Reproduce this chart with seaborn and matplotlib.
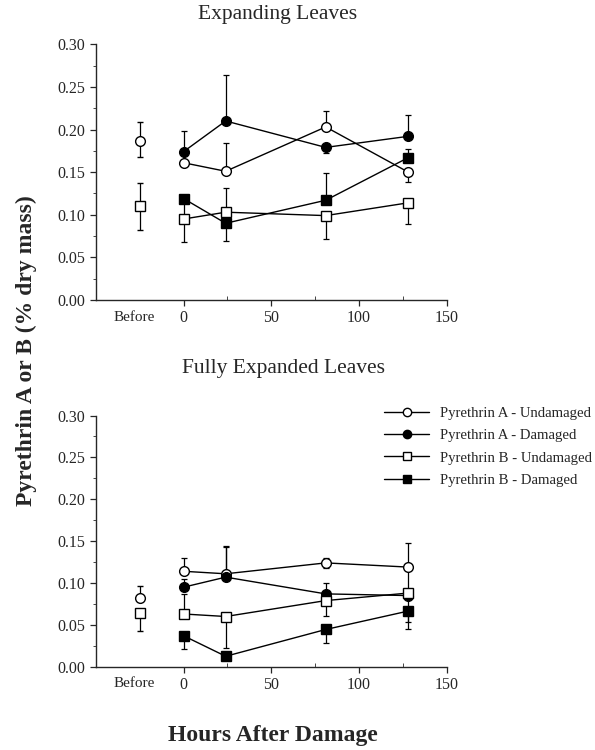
import numpy as np
import pandas as pd
import seaborn as sns
import matplotlib.pyplot as plt
from matplotlib.lines import Line2D
from matplotlib.ticker import MultipleLocator, FixedLocator

# =============================================================================
# Data
# =============================================================================

hours = [0, 24, 81, 128]
before_x = -25

series_names = [
    'Pyrethrin A - Undamaged',
    'Pyrethrin A - Damaged',
    'Pyrethrin B - Undamaged',
    'Pyrethrin B - Damaged',
]

# Expanding leaves
exp_a_und = [0.161, 0.151, 0.203, 0.150]
exp_a_dam = [0.174, 0.210, 0.179, 0.192]
exp_b_und = [0.095, 0.103, 0.099, 0.114]
exp_b_dam = [0.119, 0.090, 0.117, 0.167]
exp_lo = [[0, 0, 0, 0.012], [0, 0, 0.007, 0], [0, 0, 0.027, 0.025], [0.051, 0.021, 0, 0]]
exp_hi = [[0, 0.033, 0.019, 0], [0.024, 0.054, 0, 0.025], [0, 0.028, 0, 0], [0, 0, 0.032, 0.010]]
exp_before = [0.187, 0.110]          # A undamaged, B undamaged
exp_before_lo = [0.019, 0.028]
exp_before_hi = [0.022, 0.027]

# Fully expanded leaves
full_a_und = [0.114, 0.111, 0.124, 0.119]
full_a_dam = [0.095, 0.107, 0.087, 0.085]
full_b_und = [0.063, 0.060, 0.079, 0.088]
full_b_dam = [0.037, 0.0125, 0.0445, 0.0665]
full_lo = [[0, 0, 0.006, 0.029], [0, 0, 0, 0], [0, 0.038, 0.018, 0.035], [0.016, 0, 0.016, 0.021]]
full_hi = [[0.016, 0.033, 0.006, 0.029], [0.010, 0.036, 0.013, 0], [0.024, 0, 0, 0], [0, 0, 0, 0]]
full_before = [0.0825, 0.0646]
full_before_lo = [0, 0.022]
full_before_hi = [0.014, 0]

# =============================================================================
# Style
# =============================================================================

sns.set_style("ticks")
plt.rcParams['font.family'] = ['Liberation Serif', 'DejaVu Serif']

markers = ['o', 'o', 's', 's']
faces = ['white', 'black', 'white', 'black']


def draw_panel(ax, values, lo, hi, before, before_lo, before_hi):
    for i, name in enumerate(series_names):
        df = pd.DataFrame({'hours': hours, 'value': values[i]})
        ax.errorbar(hours, values[i], yerr=[lo[i], hi[i]], fmt='none',
                    ecolor='black', elinewidth=0.9, capsize=2.5, capthick=0.9, zorder=2)
        sns.lineplot(data=df, x='hours', y='value', ax=ax, color='black',
                     linewidth=1.0, marker=markers[i], markersize=7,
                     markerfacecolor=faces[i], markeredgecolor='black',
                     markeredgewidth=1.0, zorder=3)
    for j, idx in enumerate([0, 2]):
        ax.errorbar([before_x], [before[j]], yerr=[[before_lo[j]], [before_hi[j]]],
                    fmt=markers[idx], mfc=faces[idx], mec='black', ms=7, mew=1.0,
                    ecolor='black', elinewidth=0.9, capsize=2.5, capthick=0.9, zorder=3)

    ax.set_xlim(-50, 150)
    ax.set_ylim(0, 0.30)
    ax.set_xticks([0, 50, 100, 150])
    ax.xaxis.set_minor_locator(FixedLocator([25, 75, 125]))
    ax.yaxis.set_major_locator(MultipleLocator(0.05))
    ax.yaxis.set_minor_locator(MultipleLocator(0.025))
    ax.set_yticklabels([f'{v:.2f}' for v in ax.get_yticks()])
    ax.tick_params(axis='both', which='major', labelsize=11.5, length=4, width=0.9)
    ax.tick_params(axis='x', which='minor', direction='in', length=3)
    ax.tick_params(axis='y', which='minor', length=2.5)
    ax.text(before_x - 3, -0.0125, 'Before', ha='center', va='top', fontsize=11,
            transform=ax.transData)
    ax.set_xlabel('')
    ax.set_ylabel('')
    sns.despine(ax=ax)
    for s in ['left', 'bottom']:
        ax.spines[s].set_linewidth(1.0)


fig = plt.figure(figsize=(5.95, 7.5), dpi=100)
ax1 = fig.add_axes([0.161, 0.600, 0.590, 0.341])
ax2 = fig.add_axes([0.161, 0.111, 0.590, 0.335])

draw_panel(ax1, [exp_a_und, exp_a_dam, exp_b_und, exp_b_dam], exp_lo, exp_hi,
           exp_before, exp_before_lo, exp_before_hi)
draw_panel(ax2, [full_a_und, full_a_dam, full_b_und, full_b_dam], full_lo, full_hi,
           full_before, full_before_lo, full_before_hi)

fig.text(0.466, 0.980, 'Expanding Leaves', ha='center', va='center', fontsize=15.5)
fig.text(0.477, 0.509, 'Fully Expanded Leaves', ha='center', va='center', fontsize=15.5)
fig.text(0.045, 0.533, 'Pyrethrin A or B (% dry mass)', rotation=90, ha='center',
         va='center', fontsize=17, fontweight='bold')
fig.text(0.459, 0.02, 'Hours After Damage', ha='center', va='center',
         fontsize=17, fontweight='bold')

handles = [
    Line2D([], [], color='black', lw=1.0, marker=markers[i], ms=6,
           mfc=faces[i], mec='black', label=series_names[i])
    for i in range(4)
]
fig.legend(handles=handles, loc='upper left', bbox_to_anchor=(0.635, 0.466),
           frameon=False, fontsize=10.6, handlelength=3.1, labelspacing=0.62,
           handletextpad=0.7, borderaxespad=0)

fig.savefig('out.png', dpi=100)
